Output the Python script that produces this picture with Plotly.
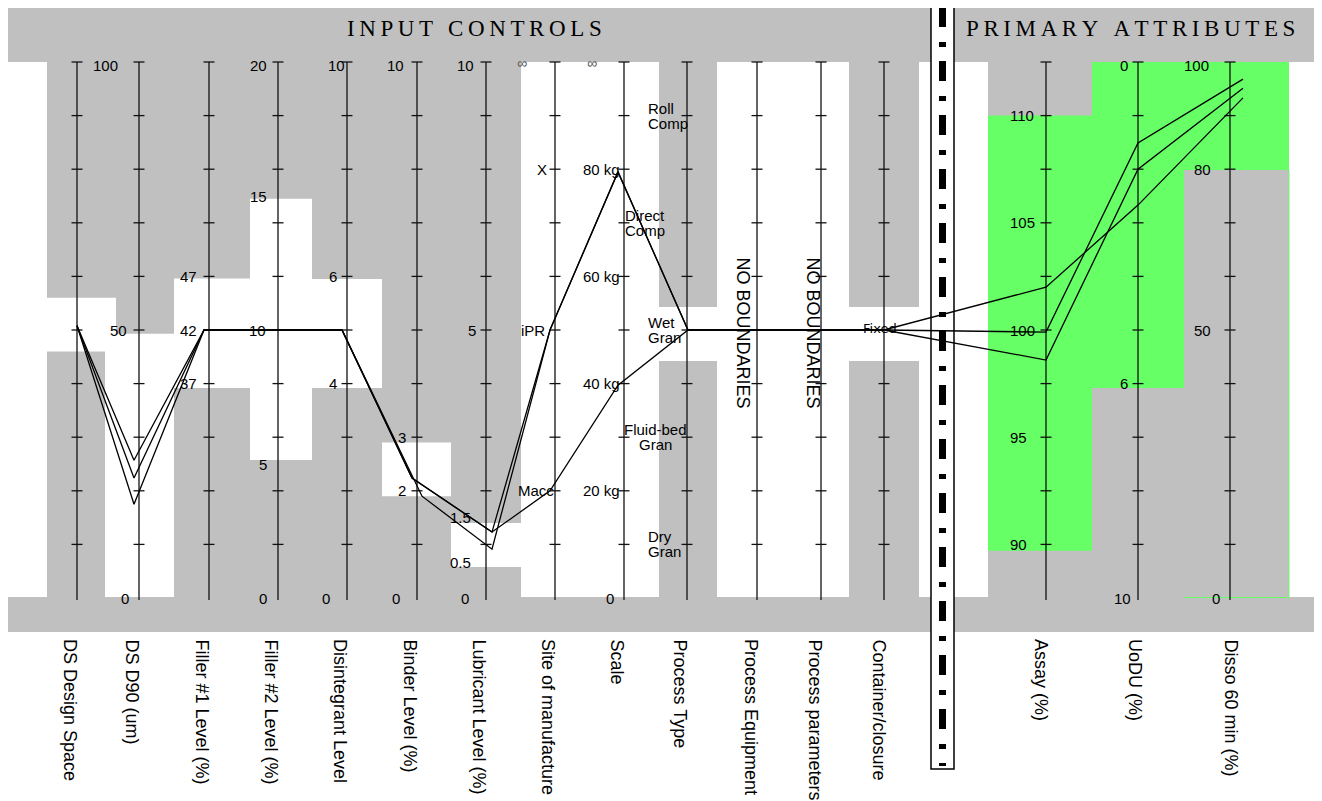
import plotly.graph_objects as go

# ---------------------------------------------------------------- data
AXIS_NAMES = ["DS Design Space", "DS D90 (um)", "Filler #1 Level (%)", "Filler #2 Level (%)",
              "Disintegrant Level", "Binder Level (%)", "Lubricant Level (%)", "Site of manufacture",
              "Scale", "Process Type", "Process Equipment", "Process parameters", "Container/closure",
              "Assay (%)", "UoDU (%)", "Disso 60 min (%)"]
# value at the bottom / top end of every vertical axis
AXIS_BOTTOM = [0, 0, 17, 0, 0, 0, 0, 0, 0, 0, 0, 0, 0, 87.5, 10, 0]
AXIS_TOP = [10, 100, 67, 20, 10, 10, 10, 10, 100, 10, 10, 10, 10, 112.5, 0, 100]
# acceptable range on each axis (white for inputs, green for attributes)
GOOD_FROM = [4.6, 0, 36.6, 5.15, 3.92, 1.9, 0.58, 0, 0, 4.42, 0, 0, 4.42, 89.7, 0, 79.85]
GOOD_TO = [5.6, 49.3, 46.8, 14.9, 5.95, 2.9, 1.4, 10, 100, 5.43, 10, 10, 5.43, 110, 6.08, 100]
N_INPUTS = 13

# three batches (values in each axis' own units)
BATCH_A = [5.08, 25.7, 42, 10, 5, 2.24, 1.23, 2, 39.7, 5, 5, 5, 5, 102.0, 2.67, 93.3]
BATCH_B = [5.08, 22.4, 42, 10, 5, 2.24, 1.23, 5, 79.5, 5, 5, 5, 5, 99.9, 1.51, 96.8]
BATCH_C = [5.08, 17.5, 42, 10, 5, 1.90, 0.91, 5, 79.5, 5, 5, 5, 5, 98.6, 2.00, 95.1]

# tick labels per axis: (text, value)
TICK_LABELS = {
    1: [("100", 100), ("50", 50), ("0", 0)],
    2: [("47", 47), ("42", 42), ("37", 37)],
    3: [("20", 20), ("15", 15), ("10", 10), ("5", 5), ("0", 0)],
    4: [("10", 10), ("6", 6), ("4", 4), ("0", 0)],
    5: [("10", 10), ("3", 3), ("2", 2), ("0", 0)],
    6: [("10", 10), ("5", 5), ("1.5", 1.5), ("0.5", 0.5), ("0", 0)],
    7: [("\u221e", 10), ("X", 8), ("iPR", 5), ("Macc", 2)],
    8: [("\u221e", 100), ("80 kg", 80), ("60 kg", 60), ("40 kg", 40), ("20 kg", 20), ("0", 0)],
    13: [("110", 110), ("105", 105), ("100", 100), ("95", 95), ("90", 90)],
    14: [("0", 0), ("6", 6), ("10", 10)],
    15: [("100", 100), ("80", 80), ("50", 50), ("0", 0)],
}
PROCESS_TYPES = [("Roll", "Comp"), ("Direct", "Comp"), ("Wet", "Gran"), ("Fluid-bed", "Gran"), ("Dry", "Gran")]
PROCESS_TYPE_LEVELS = [9, 7, 5, 3, 1]
FREE_AXES = ["NO BOUNDARIES", "NO BOUNDARIES"]
CONTAINER_TEXT = "Fixed"
GROUP_TITLES = ["INPUT CONTROLS", "PRIMARY ATTRIBUTES"]

# ---------------------------------------------------------------- layout constants (px)
W, H = 1322, 801
PAGE_PAD = 8  # default body margin of the html page
Y0_PX, UNIT_PX = 598.0, 53.6
AXIS_X = [77, 139, 209, 278, 347, 417, 486, 555, 624, 687, 757, 821, 884, 1046, 1138, 1230]
COL_X = [(47, 116), (105, 174), (174, 250), (250, 312), (312, 382), (382, 451), (451, 521),
         (521, 590), (590, 659), (659, 717), (717, 785), (785, 849), (849, 919),
         (988, 1092), (1092, 1184), (1184, 1289)]
LINE_DX = [0, -5, -5, 0, -5, -5, 6, -5, -6, 1, 0, 0, 0, 0, 0, 13]
LINE_DX_C = {5: 5}
NAME_DX = [-7, -7, -7, -7, -7, -7, -7, -7, -7, -7, -6, -6, -5, -5, -3, 1]
LABEL_CX = {
    1: [105, 118, 125], 2: [188, 188, 188], 3: [258, 258, 257, 263, 263],
    4: [336, 333, 333, 326], 5: [395, 402, 402, 396], 6: [465, 472, 460, 460, 465],
    7: [522, 542, 533, 536], 8: [592, 601, 601, 601, 601, 610],
    13: [1022, 1022, 1022, 1018, 1018], 14: [1124, 1124, 1122], 15: [1196, 1202, 1202, 1216],
}
PT_ANCHOR = [("left", 646), ("left", 623), ("left", 646), ("center", 655), ("left", 646)]
FREE_X = [742.5, 812.5]
GRAY = "#c0c0c0"
GREEN = "#66ff66"
SANS = "Liberation Sans, Arial, Helvetica, sans-serif"
SERIF = "Liberation Serif, Times New Roman, serif"


def u_px(ypx):
    return (Y0_PX - ypx) / UNIT_PX


def norm(i, v):
    return 10.0 * (v - AXIS_BOTTOM[i]) / (AXIS_TOP[i] - AXIS_BOTTOM[i])


shapes = []


def rect(x0, x1, ua, ub, color, line=None):
    shapes.append(dict(type="rect", xref="x", yref="y", x0=x0, x1=x1, y0=ua, y1=ub,
                       fillcolor=color, line=line or dict(width=0), layer="below"))


U_TOP, U_BOT = 10.0, u_px(597)
# bands
rect(7, W, u_px(7), u_px(62), GRAY)
rect(7, W, u_px(597), u_px(632), GRAY)
# input columns
rect(COL_X[0][0], COL_X[N_INPUTS - 1][1], U_BOT, U_TOP, GRAY)
for i in range(N_INPUTS):
    lo, hi = sorted([norm(i, GOOD_FROM[i]), norm(i, GOOD_TO[i])])
    rect(COL_X[i][0], COL_X[i][1], max(lo, U_BOT), min(hi, U_TOP), "white")
# attribute columns
rect(COL_X[N_INPUTS][0], COL_X[-1][1], U_BOT, U_TOP, GRAY)
for i in range(N_INPUTS, len(AXIS_NAMES)):
    lo, hi = sorted([norm(i, GOOD_FROM[i]), norm(i, GOOD_TO[i])])
    rect(COL_X[i][0], COL_X[i][1], max(lo, U_BOT), min(hi, U_TOP), GREEN)
# thin green edge of the dissolution column
shapes.append(dict(type="line", xref="x", yref="y", x0=COL_X[-1][0], x1=COL_X[-1][1],
                   y0=u_px(597.5), y1=u_px(597.5), line=dict(color=GREEN, width=1), layer="below"))
shapes.append(dict(type="line", xref="x", yref="y", x0=COL_X[-1][1], x1=COL_X[-1][1],
                   y0=u_px(597.5), y1=norm(15, GOOD_FROM[15]), line=dict(color=GREEN, width=1), layer="below"))
# separator box with dash-dot line
rect(931, 954, u_px(6.5), u_px(769), "white", line=dict(color="black", width=1.5))
shapes.append(dict(type="line", xref="x", yref="y", x0=942.5, x1=942.5, y0=u_px(7), y1=u_px(766),
                   line=dict(color="black", width=7, dash="20px,15px,5px,14px"), layer="below"))

fig = go.Figure()

# axes and ticks
ax_x, ax_y = [], []
for xa in AXIS_X:
    ax_x += [xa, xa, None]
    ax_y += [U_TOP, u_px(600), None]
    for k in range(1, 11):
        ax_x += [xa - 5.5, xa + 5.5, None]
        ax_y += [k, k, None]
fig.add_trace(go.Scatter(x=ax_x, y=ax_y, mode="lines", line=dict(color="#111111", width=1.3),
                         hoverinfo="skip", showlegend=False))

# batches
for name, batch in [("A", BATCH_A), ("B", BATCH_B), ("C", BATCH_C)]:
    xs = []
    for i, xa in enumerate(AXIS_X):
        dx = LINE_DX_C.get(i, LINE_DX[i]) if name == "C" else LINE_DX[i]
        xs.append(xa + dx)
    ys = [norm(i, v) for i, v in enumerate(batch)]
    fig.add_trace(go.Scatter(x=xs, y=ys, mode="lines", line=dict(color="black", width=1.3),
                             name="Batch " + name, showlegend=False))

ann = []
# tick labels
for i, labels in TICK_LABELS.items():
    for (txt, val), cx in zip(labels, LABEL_CX[i]):
        u = norm(i, val)
        size = 15
        dy = 0
        color = "black"
        if txt == "\u221e":
            size = 14
            dy = 1
            color = "#555555"
        elif abs(u - 10) < 1e-9:
            dy = 3
        if txt == "0.5":
            dy = -9
        ann.append(dict(x=cx, y=u - dy / UNIT_PX, text=txt, showarrow=False, xanchor="center",
                        yanchor="middle", font=dict(family=SANS, size=size, color=color)))
# process type categories
for (l1, l2), lvl, (anc, ax0) in zip(PROCESS_TYPES, PROCESS_TYPE_LEVELS, PT_ANCHOR):
    for txt, dy in [(l1, -7.5), (l2, 7.5)]:
        ann.append(dict(x=ax0, y=lvl - dy / UNIT_PX, text=txt, showarrow=False, xanchor=anc,
                        yanchor="middle", font=dict(family=SANS, size=15, color="black")))
# free axes
for txt, fx in zip(FREE_AXES, FREE_X):
    ann.append(dict(x=fx, y=u_px(333), text=txt, textangle=90, showarrow=False, xanchor="center",
                    yanchor="middle", font=dict(family=SANS, size=18, color="black")))
ann.append(dict(x=880, y=u_px(328), text=CONTAINER_TEXT, showarrow=False, xanchor="center", yanchor="middle",
                font=dict(family="DejaVu Sans", size=13, color="black")))
# group titles
THIN = "\u2009"
for txt, cx in zip(GROUP_TITLES, [474, 1130.5]):
    spaced = "\u00a0".join(THIN.join(list(w)) for w in txt.split(" "))
    spaced = spaced.replace("\u00a0", THIN + "\u00a0" + THIN)
    ann.append(dict(x=cx, y=u_px(28), text=spaced, showarrow=False, xanchor="center", yanchor="middle",
                    font=dict(family=SERIF, size=23, color="black")))
# axis names
for name, xa, dx in zip(AXIS_NAMES, AXIS_X, NAME_DX):
    ann.append(dict(x=xa + dx, y=u_px(637), text=name, textangle=90, showarrow=False, xanchor="center",
                    yanchor="top", font=dict(family=SANS, size=18, color="black")))

fig.update_layout(
    width=W - PAGE_PAD, height=H - PAGE_PAD, margin=dict(l=0, r=0, t=0, b=0), autosize=False,
    paper_bgcolor="white", plot_bgcolor="white",
    xaxis=dict(range=[PAGE_PAD, W], visible=False, fixedrange=True),
    yaxis=dict(range=[u_px(H), u_px(PAGE_PAD)], visible=False, fixedrange=True),
    shapes=shapes, annotations=ann, showlegend=False,
)
fig.write_html("out.html")
